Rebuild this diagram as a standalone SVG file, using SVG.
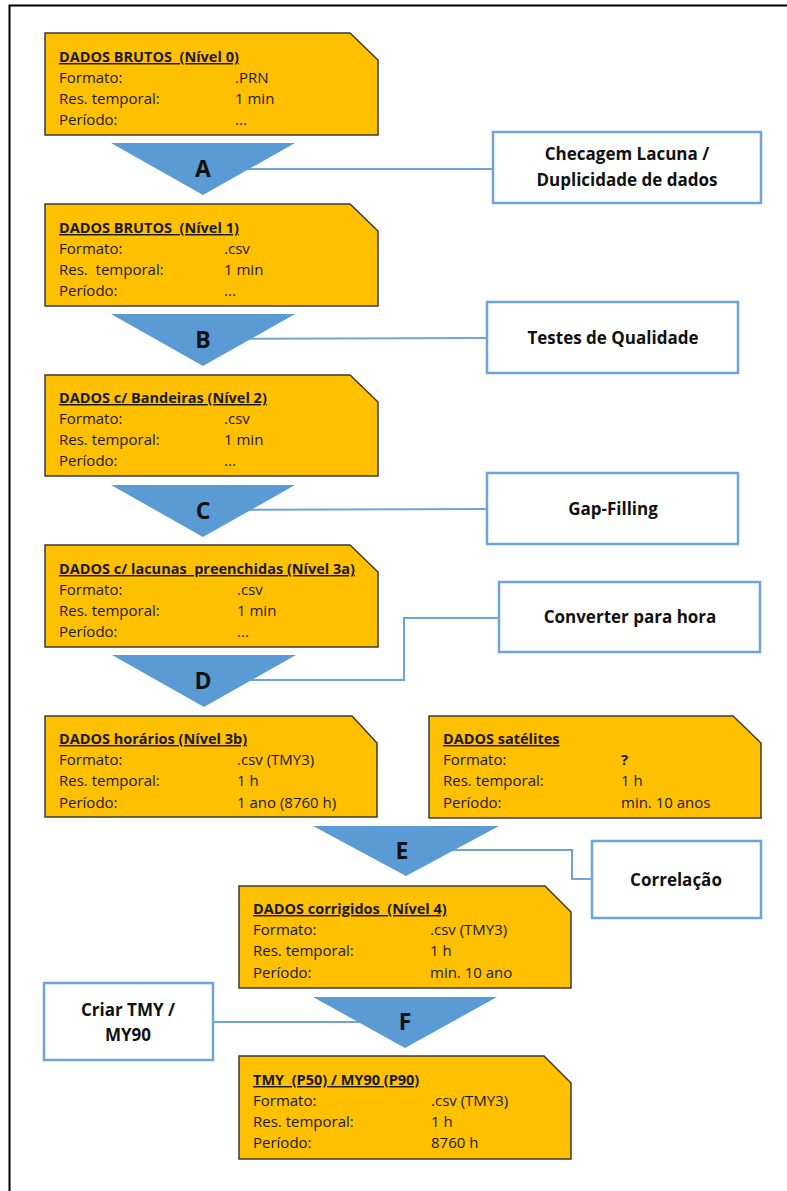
<svg xmlns="http://www.w3.org/2000/svg" width="787" height="1191" viewBox="0 0 787 1191">
<style>
.box{fill:#FFC000;stroke:#3a3a3a;stroke-width:1.5}
.tri{fill:#5B9BD5;stroke:none}
.proc{fill:#fff;stroke:#6FA3DC;stroke-width:2.5}
.con{fill:none;stroke:#6FA3DC;stroke-width:2}
.t{font-family:"Open Sans",Lato,sans-serif;font-size:15px;fill:#1a1a1a}
.h{font-weight:bold;text-decoration:underline;font-size:14.5px}
.L{font-family:"Open Sans",Lato,sans-serif;font-size:23px;font-weight:bold;fill:#111;text-anchor:middle}
.p{font-family:"Open Sans",Lato,sans-serif;font-size:17px;font-weight:bold;fill:#111;text-anchor:middle}
</style>
<rect x="9.5" y="5.5" width="800" height="1200" fill="none" stroke="#000" stroke-width="2"/>

<g id="connectors">
<polyline class="con" points="203,169 493,169"/>
<polyline class="con" points="203,339 487,338"/>
<polyline class="con" points="203,510 487,509"/>
<polyline class="con" points="203,680 404,680 404,618 499,618"/>
<polyline class="con" points="406,850 572,850 572,879 592,879"/>
<polyline class="con" points="213,1022 405,1022"/>
</g>

<g id="n0">
<path class="box" d="M45,33 H350 L378,60 V135 H45 Z"/>
<text class="t h" x="59" y="62">DADOS BRUTOS&#160; (Nível 0)</text>
<text class="t" x="59" y="83">Formato:</text><text class="t" x="235" y="83">.PRN</text>
<text class="t" x="59" y="104">Res. temporal:</text><text class="t" x="235" y="104">1 min</text>
<text class="t" x="59" y="125">Período:</text><text class="t" x="235" y="125">...</text>
</g>
<g id="tA"><path class="tri" d="M111,143 H295 L203,195 Z"/><text class="L" x="203" y="177">A</text></g>
<g id="pA"><rect class="proc" x="493" y="132" width="268" height="71"/>
<text class="p" x="627" y="160">Checagem Lacuna /</text><text class="p" x="627" y="186">Duplicidade de dados</text></g>

<g id="n1">
<path class="box" d="M45,204 H350 L378,231 V306 H45 Z"/>
<text class="t h" x="59" y="233">DADOS BRUTOS&#160; (Nível 1)</text>
<text class="t" x="59" y="254">Formato:</text><text class="t" x="224" y="254">.csv</text>
<text class="t" x="59" y="275">Res.&#160; temporal:</text><text class="t" x="224" y="275">1 min</text>
<text class="t" x="59" y="296">Período:</text><text class="t" x="224" y="296">...</text>
</g>
<g id="tB"><path class="tri" d="M111,314 H295 L203,366 Z"/><text class="L" x="203" y="348">B</text></g>
<g id="pB"><rect class="proc" x="487" y="302" width="251" height="71"/>
<text class="p" x="613" y="344">Testes de Qualidade</text></g>

<g id="n2">
<path class="box" d="M45,375 H350 L378,402 V476 H45 Z"/>
<text class="t h" x="59" y="403">DADOS c/ Bandeiras (Nível 2)</text>
<text class="t" x="59" y="424">Formato:</text><text class="t" x="224" y="424">.csv</text>
<text class="t" x="59" y="445">Res. temporal:</text><text class="t" x="224" y="445">1 min</text>
<text class="t" x="59" y="466">Período:</text><text class="t" x="224" y="466">...</text>
</g>
<g id="tC"><path class="tri" d="M111,485 H295 L203,537 Z"/><text class="L" x="203" y="519">C</text></g>
<g id="pC"><rect class="proc" x="487" y="473" width="251" height="71"/>
<text class="p" x="613" y="515">Gap-Filling</text></g>

<g id="n3">
<path class="box" d="M45,545 H350 L378,572 V647 H45 Z"/>
<text class="t h" x="59" y="574">DADOS c/ lacunas&#160; preenchidas (Nível 3a)</text>
<text class="t" x="59" y="595">Formato:</text><text class="t" x="237" y="595">.csv</text>
<text class="t" x="59" y="616">Res. temporal:</text><text class="t" x="237" y="616">1 min</text>
<text class="t" x="59" y="637">Período:</text><text class="t" x="237" y="637">...</text>
</g>
<g id="tD"><path class="tri" d="M112,655 H296 L204,707 Z"/><text class="L" x="203" y="689">D</text></g>
<g id="pD"><rect class="proc" x="499" y="582" width="261" height="70"/>
<text class="p" x="630" y="623">Converter para hora</text></g>

<g id="n3b">
<path class="box" d="M45,716 H352 L377,743 V817 H45 Z"/>
<text class="t h" x="59" y="744">DADOS horários (Nível 3b)</text>
<text class="t" x="59" y="765">Formato:</text><text class="t" x="237" y="765">.csv (TMY3)</text>
<text class="t" x="59" y="786">Res. temporal:</text><text class="t" x="237" y="786">1 h</text>
<text class="t" x="59" y="808">Período:</text><text class="t" x="237" y="808">1 ano (8760 h)</text>
</g>
<g id="nsat">
<path class="box" d="M429,716 H733 L761,743 V818 H429 Z"/>
<text class="t h" x="443" y="744">DADOS satélites</text>
<text class="t" x="443" y="765">Formato:</text><text class="t" x="621" y="765" font-weight="bold">?</text>
<text class="t" x="443" y="786">Res. temporal:</text><text class="t" x="621" y="786">1 h</text>
<text class="t" x="443" y="808">Período:</text><text class="t" x="621" y="808">min. 10 anos</text>
</g>
<g id="tE"><path class="tri" d="M313,826 H499 L406,876 Z"/><text class="L" x="402" y="859">E</text></g>
<g id="pE"><rect class="proc" x="592" y="841" width="169" height="77"/>
<text class="p" x="676" y="886">Correlação</text></g>

<g id="n4">
<path class="box" d="M239,886 H545 L571,912 V988 H239 Z"/>
<text class="t h" x="253" y="914">DADOS corrigidos&#160; (Nível 4)</text>
<text class="t" x="253" y="935">Formato:</text><text class="t" x="430" y="935">.csv (TMY3)</text>
<text class="t" x="253" y="956">Res. temporal:</text><text class="t" x="430" y="956">1 h</text>
<text class="t" x="253" y="978">Período:</text><text class="t" x="430" y="978">min. 10 ano</text>
</g>
<g id="tF"><path class="tri" d="M313,997 H497 L405,1048 Z"/><text class="L" x="405" y="1030">F</text></g>
<g id="pF"><rect class="proc" x="44" y="983" width="169" height="77"/>
<text class="p" x="128" y="1016">Criar TMY /</text><text class="p" x="128" y="1041">MY90</text></g>

<g id="n5">
<path class="box" d="M239,1056 H544 L571,1083 V1159 H239 Z"/>
<text class="t h" x="253" y="1085">TMY&#160; (P50) / MY90 (P90)</text>
<text class="t" x="253" y="1106">Formato:</text><text class="t" x="431" y="1106">.csv (TMY3)</text>
<text class="t" x="253" y="1127">Res. temporal:</text><text class="t" x="431" y="1127">1 h</text>
<text class="t" x="253" y="1148">Período:</text><text class="t" x="431" y="1148">8760 h</text>
</g>
</svg>
